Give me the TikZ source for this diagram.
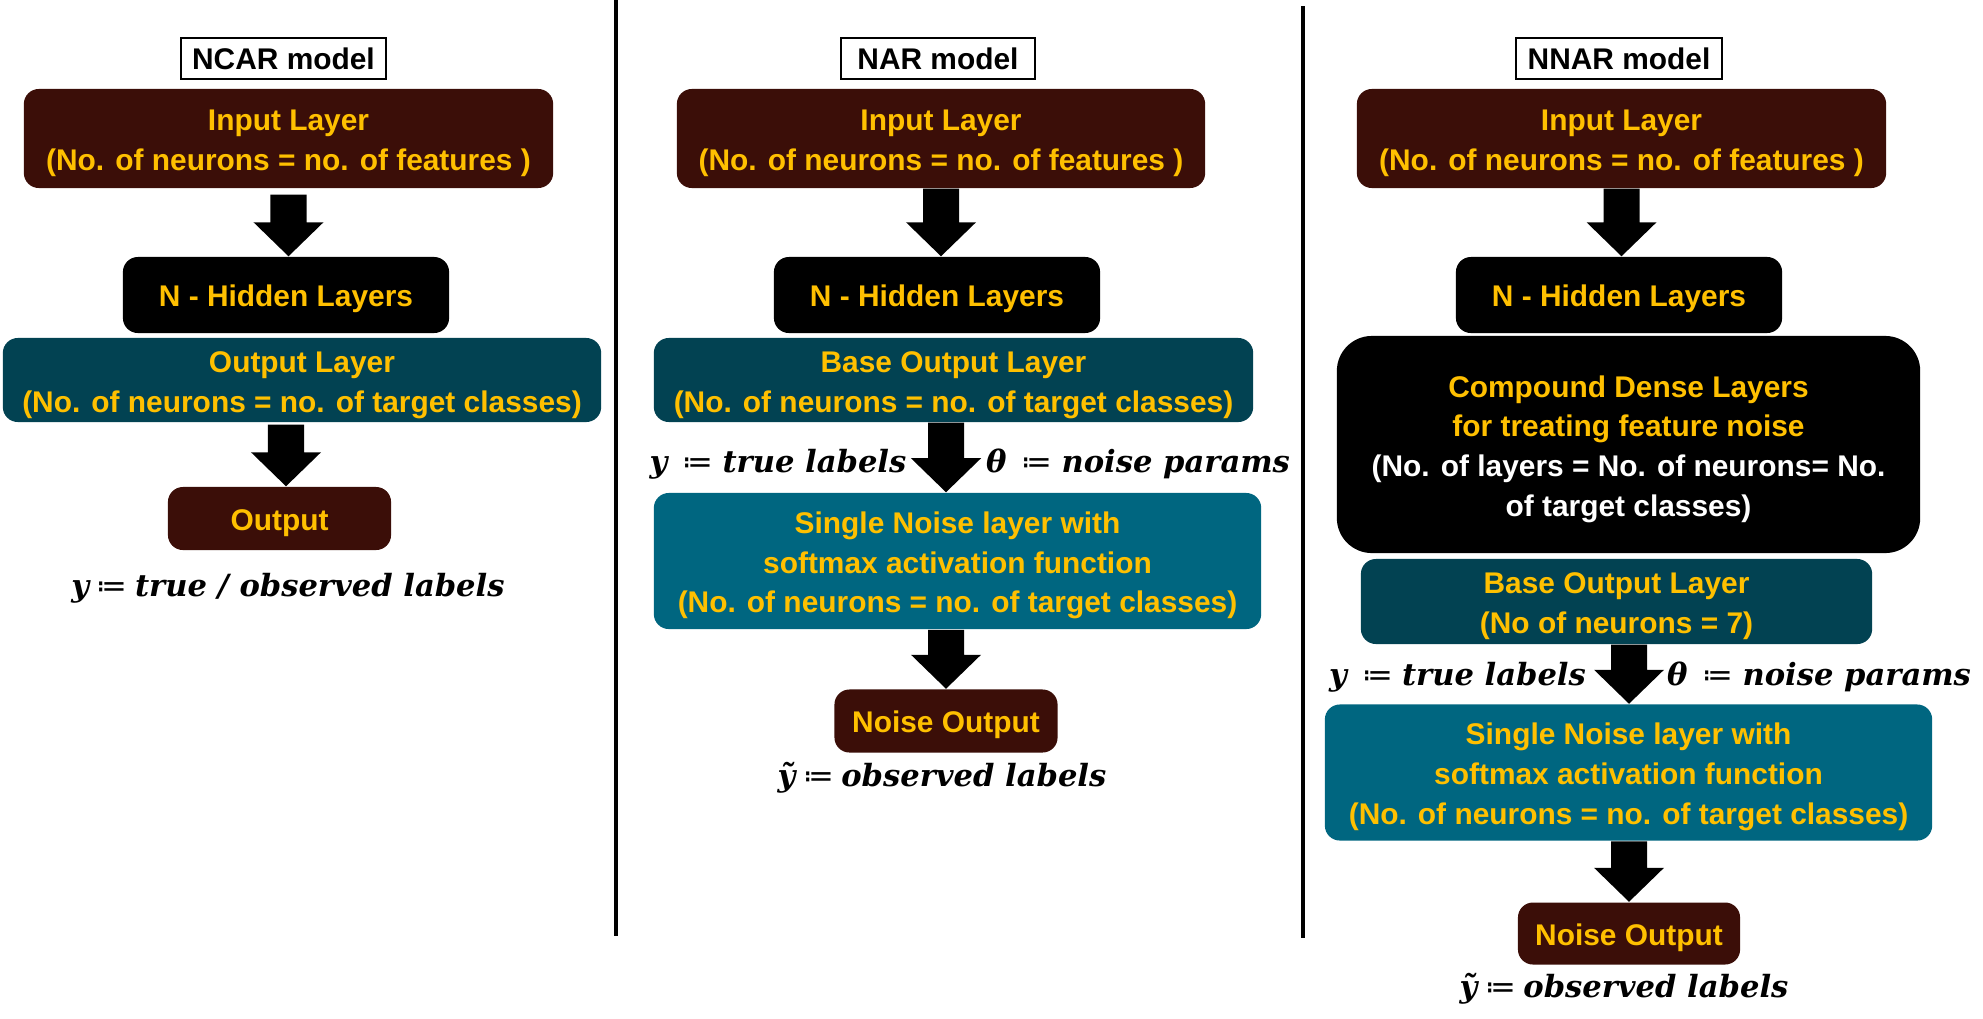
\documentclass[tikz,border=0pt]{standalone}
\usepackage{fontspec}
\setmainfont{Liberation Sans}
\newfontfamily\labfont{DejaVu Serif}
\newfontfamily\symfont{DejaVu Sans}
\usetikzlibrary{calc}
\definecolor{brn}{RGB}{59,14,8}
\definecolor{tealD}{RGB}{2,66,82}
\definecolor{tealL}{RGB}{0,102,128}
\definecolor{gold}{RGB}{255,192,0}
\newcommand{\barrow}[2]{\fill[black] let \p1=(#1), \p2=(#2) in
  (\x1-0.18cm,\y1) -- (\x1+0.18cm,\y1) -- (\x1+0.18cm,\y2+0.34cm) -- (\x1+0.35cm,\y2+0.34cm)
  -- (\x1,\y2) -- (\x1-0.35cm,\y2+0.34cm) -- (\x1-0.18cm,\y2+0.34cm) -- cycle;}
\newcommand{\deq}{{\symfont\mdseries\upshape ≔}}
\newcommand{\ml}[1]{\raisebox{-1.2pt}[\height][\depth]{\begin{tabular}{@{}c@{}}#1\end{tabular}}}
\begin{document}
\begin{tikzpicture}[x=0.01cm,y=-0.01cm,
  box/.style={rounded corners=0.15cm, text=gold, align=center, inner sep=0pt,
    font=\bfseries\fontsize{8.5}{11.3}\selectfont,
    execute at begin node={\rule{0pt}{1.0em}}},
  titlebox/.style={draw=black, line width=0.6pt, fill=white, text=black, inner sep=0pt,
    minimum height=0.41cm, font=\bfseries\fontsize{8.5}{10}\selectfont},
  lab/.style={inner sep=0pt, font=\labfont\bfseries\itshape\fontsize{8.7}{10}\selectfont},
  divider/.style={line width=1.2pt, black}]
\useasboundingbox (0,0) rectangle (1983,1018);
% dividers
\coordinate (d1a) at (616,0); \coordinate (d1b) at (616,936);
\coordinate (d2a) at (1303,6); \coordinate (d2b) at (1303,938);
\draw[divider] (d1a) -- (d1b);
\draw[divider] (d2a) -- (d2b);
% ---------------- NCAR
\node[titlebox, minimum width=2.05cm] (t1) at (283.5,58.5) {NCAR model};
\node[box, fill=brn, minimum width=5.29cm, minimum height=0.99cm] (in1) at (288.5,138.5)
  {\ml{Input Layer\\(No. of neurons = no. of features )}};
\node[box, fill=black, minimum width=3.26cm, minimum height=0.76cm] (h1) at (286,295) {N - Hidden Layers};
\node[box, fill=tealD, minimum width=5.98cm, minimum height=0.84cm] (o1) at (302,380)
  {\ml{Output Layer\\(No. of neurons = no. of target classes)}};
\node[box, fill=brn, minimum width=2.23cm, minimum height=0.63cm] (out1) at (279.5,518.5) {Output};
\node[lab] (l1) at (288,588) {y\hspace{0.25em}\deq\hspace{0.25em}true / observed labels};
\barrow{[yshift=-0.06cm]in1.south}{h1.north}
\barrow{[yshift=-0.02cm]h1.south |- o1.south}{h1.south |- out1.north}
% ---------------- NAR
\node[titlebox, minimum width=1.94cm] (t2) at (938,58.5) {NAR model};
\node[box, fill=brn, minimum width=5.28cm, minimum height=0.99cm] (in2) at (941,138.5)
  {\ml{Input Layer\\(No. of neurons = no. of features )}};
\node[box, fill=black, minimum width=3.26cm, minimum height=0.76cm] (h2) at (937,295) {N - Hidden Layers};
\node[box, fill=tealD, minimum width=5.99cm, minimum height=0.84cm] (bo2) at (953.5,380)
  {\ml{Base Output Layer\\(No. of neurons = no. of target classes)}};
\node[box, fill=tealL, minimum width=6.07cm, minimum height=1.36cm] (sn2) at (957.5,561)
  {\ml{Single Noise layer with\\softmax activation function\\(No. of neurons = no. of target classes)}};
\node[box, fill=brn, minimum width=2.23cm, minimum height=0.63cm] (nout2) at (946,721) {Noise Output};
\node[lab] (ly2) at (778,464) {y\hspace{0.5em}\deq\hspace{0.3em}true labels};
\node[lab] (lt2) at (1138,464) {θ\hspace{0.5em}\deq\hspace{0.3em}noise params};
\node[lab] (lo2) at (942,778) {ỹ\hspace{0.25em}\deq\hspace{0.25em}observed labels};
\barrow{in2.south}{h2.north}
\barrow{nout2.north |- bo2.south}{nout2.north |- sn2.north}
\barrow{nout2.north |- sn2.south}{nout2.north}
% ---------------- NNAR
\node[titlebox, minimum width=2.06cm] (t3) at (1619,58.5) {NNAR model};
\node[box, fill=brn, minimum width=5.29cm, minimum height=0.99cm] (in3) at (1621.5,138.5)
  {\ml{Input Layer\\(No. of neurons = no. of features )}};
\node[box, fill=black, minimum width=3.26cm, minimum height=0.76cm] (h3) at (1619,295) {N - Hidden Layers};
\node[box, fill=black, rounded corners=0.35cm, minimum width=5.83cm, minimum height=2.17cm] (cd3) at (1628.5,444.5)
  {\ml{Compound Dense Layers\\for treating feature noise\\
   \textcolor{white}{(No. of layers = No. of neurons= No.}\\\textcolor{white}{of target classes)}}};
\node[box, fill=tealD, minimum width=5.11cm, minimum height=0.85cm] (bo3) at (1616.5,601.5)
  {\ml{Base Output Layer\\(No of neurons = 7)}};
\node[box, fill=tealL, minimum width=6.07cm, minimum height=1.36cm] (sn3) at (1628.5,772.5)
  {\ml{Single Noise layer with\\softmax activation function\\(No. of neurons = no. of target classes)}};
\node[box, fill=brn, minimum width=2.22cm, minimum height=0.62cm] (nout3) at (1629,933.5) {Noise Output};
\node[lab] (ly3) at (1457.5,677) {y\hspace{0.5em}\deq\hspace{0.3em}true labels};
\node[lab] (lt3) at (1819,677) {θ\hspace{0.5em}\deq\hspace{0.3em}noise params};
\node[lab] (lo3) at (1624,989) {ỹ\hspace{0.25em}\deq\hspace{0.25em}observed labels};
\barrow{in3.south}{h3.north}
\barrow{nout3.north |- bo3.south}{nout3.north |- sn3.north}
\barrow{nout3.north |- sn3.south}{nout3.north}
\end{tikzpicture}
\end{document}
